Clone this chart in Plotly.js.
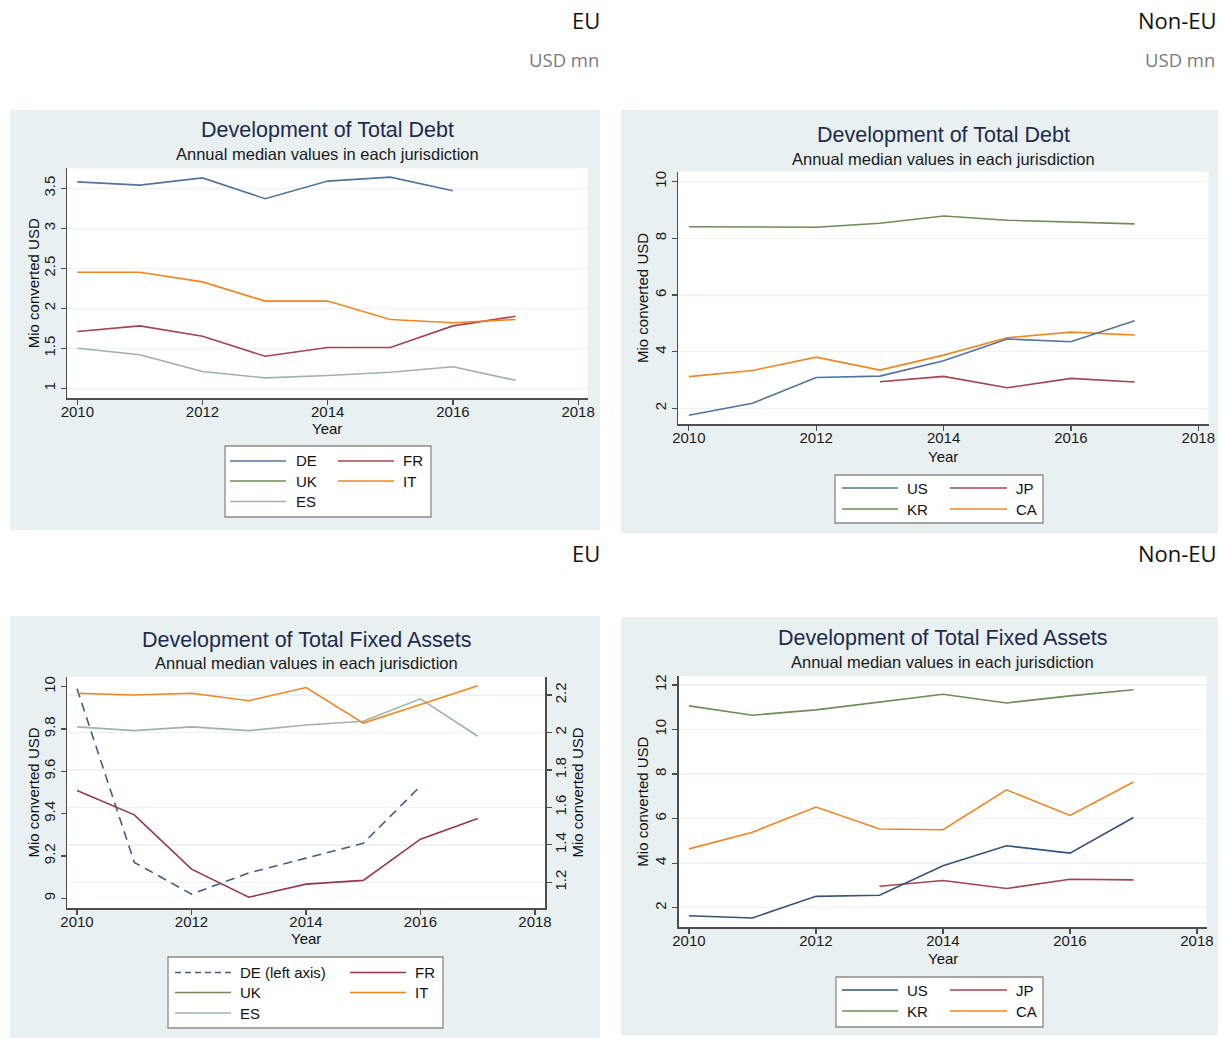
<!DOCTYPE html>
<html>
<head>
<meta charset="utf-8">
<script src="https://cdn.plot.ly/plotly-3.0.1.min.js"></script>
<style>
  html, body { margin: 0; padding: 0; background: #ffffff; }
  #chart { width: 1228px; height: 1038px; }
</style>
</head>
<body>
<div id="chart"></div>
<script>
// ---- data: annual medians, million USD ----
const years = [2010, 2011, 2012, 2013, 2014, 2015, 2016, 2017];
const xTicks = [2010, 2012, 2014, 2016, 2018];

// Total debt, EU jurisdictions
const debtDE = [3.58, 3.54, 3.63, 3.37, 3.59, 3.64, 3.47, null];
const debtFR = [1.71, 1.78, 1.65, 1.40, 1.51, 1.51, 1.78, 1.90];
const debtUK = [null, null, null, null, null, null, null, null];
const debtIT = [2.45, 2.45, 2.33, 2.09, 2.09, 1.86, 1.82, 1.86];
const debtES = [1.50, 1.42, 1.21, 1.13, 1.16, 1.20, 1.27, 1.10];

// Total debt, non-EU jurisdictions
const debtUS = [1.76, 2.18, 3.09, 3.14, 3.68, 4.45, 4.35, 5.09];
const debtJP = [null, null, null, 2.94, 3.13, 2.73, 3.06, 2.93];
const debtKR = [8.41, 8.39, 8.39, 8.53, 8.79, 8.64, 8.58, 8.51];
const debtCA = [3.12, 3.34, 3.81, 3.35, 3.88, 4.49, 4.69, 4.59];

// Total fixed assets, EU jurisdictions (DE on the left axis, others on the right)
const faDE = [9.99, 9.17, 9.02, 9.12, 9.19, 9.26, 9.53, null];
const faFR = [1.69, 1.56, 1.27, 1.12, 1.19, 1.21, 1.43, 1.54];
const faUK = [null, null, null, null, null, null, null, null];
const faIT = [2.21, 2.20, 2.21, 2.17, 2.24, 2.05, 2.15, 2.25];
const faES = [2.03, 2.01, 2.03, 2.01, 2.04, 2.06, 2.18, 1.98];

// Total fixed assets, non-EU jurisdictions
const faUS = [1.64, 1.54, 2.51, 2.56, 3.88, 4.78, 4.45, 6.05];
const faJP = [null, null, null, 2.96, 3.22, 2.86, 3.28, 3.25];
const faKR = [11.06, 10.64, 10.88, 11.24, 11.58, 11.19, 11.51, 11.78];
const faCA = [4.64, 5.39, 6.52, 5.53, 5.50, 7.29, 6.14, 7.64];

// ---- styling ----
const W = 1228, H = 1038;
const FONT = 'Liberation Sans, Arial, sans-serif';
const HEAD_FONT = 'Open Sans, Noto Sans, sans-serif';
const COL = {
  navy: '#52739a', maroon: '#a4444f', green: '#6f8b57',
  orange: '#f08522', gray: '#9fb1aa'
};
const PANEL_BG = '#e8f0f2';
const GRID = '#edf2f4';
const AXIS = '#4d4d4d';

const fx = px => px / W;
const fy = py => 1 - py / H;

// panel frames and plot areas (pixels)
const panels = [
  { bg: [10, 110, 600, 530], plot: [67.3, 168.3, 587.5, 398.3], xr: [2009.84, 2018.15], yr: [0.875, 3.75], dtick: 0.5, tick0: 1,
    title: 'Development of Total Debt', tY: 130.5, sY: 154, yTitleX: 33, xTitleY: 428 },
  { bg: [621, 110, 1218, 533], plot: [678, 171.7, 1208.5, 424.3], xr: [2009.83, 2018.16], yr: [1.44, 10.35], dtick: 2, tick0: 2,
    title: 'Development of Total Debt', tY: 134.5, sY: 158.5, yTitleX: 643, xTitleY: 456 },
  { bg: [10, 616, 600, 1038], plot: [67.3, 676.7, 545.3, 908.3], xr: [2009.83, 2018.18], yr: [8.953, 10.047], dtick: 0.2, tick0: 9,
    title: 'Development of Total Fixed Assets', tY: 639.5, sY: 663, yTitleX: 33, xTitleY: 938 },
  { bg: [621, 617, 1218, 1035], plot: [678.8, 676, 1206.5, 927.3], xr: [2009.84, 2018.15], yr: [1.12, 12.4], dtick: 2, tick0: 2,
    title: 'Development of Total Fixed Assets', tY: 638, sY: 662, yTitleX: 643, xTitleY: 958 }
];

const tickFont = { family: FONT, size: 15, color: '#1a1a1a' };
const labelFont = { family: FONT, size: 15, color: '#111' };

function xAxis(p, anchor) {
  return {
    domain: [fx(p.plot[0]), fx(p.plot[2])], range: p.xr, anchor: anchor,
    tickvals: xTicks, ticks: 'outside', ticklen: 5, tickwidth: 1.2, tickcolor: AXIS,
    ticklabelstandoff: -6,
    showline: true, linecolor: AXIS, linewidth: 1.5, showgrid: false, zeroline: false,
    tickfont: tickFont, fixedrange: true
  };
}
function yAxis(p, anchor, grid) {
  return {
    domain: [fy(p.plot[3]), fy(p.plot[1])], range: p.yr, anchor: anchor,
    tick0: p.tick0, dtick: p.dtick, tickangle: -90,
    ticks: 'outside', ticklen: 5, tickwidth: 1.2, tickcolor: AXIS,
    showline: true, linecolor: AXIS, linewidth: 1.5,
    showgrid: grid, gridcolor: GRID, gridwidth: 1.5, zeroline: false,
    tickfont: tickFont, fixedrange: true
  };
}

// ---- traces ----
function line(y, color, xa, ya, dash) {
  return {
    type: 'scatter', mode: 'lines', x: years, y: y, xaxis: xa, yaxis: ya,
    line: { color: color, width: 1.6, dash: dash || 'solid' },
    connectgaps: false, showlegend: false, hoverinfo: 'x+y'
  };
}

const data = [
  // EU debt
  line(debtES, COL.gray, 'x', 'y'),
  line(debtUK, COL.green, 'x', 'y'),
  line(debtFR, COL.maroon, 'x', 'y'),
  line(debtIT, COL.orange, 'x', 'y'),
  line(debtDE, COL.navy, 'x', 'y'),
  // non-EU debt
  line(debtKR, COL.green, 'x2', 'y2'),
  line(debtJP, COL.maroon, 'x2', 'y2'),
  line(debtCA, COL.orange, 'x2', 'y2'),
  line(debtUS, COL.navy, 'x2', 'y2'),
  // EU fixed assets
  line(faES, COL.gray, 'x3', 'y5'),
  line(faUK, COL.green, 'x3', 'y5'),
  line(faFR, '#94394a', 'x3', 'y5'),
  line(faIT, COL.orange, 'x3', 'y5'),
  line(faDE, '#3f5d80', 'x3', 'y3', '9px,6px'),
  // non-EU fixed assets
  line(faKR, COL.green, 'x4', 'y4'),
  line(faJP, COL.maroon, 'x4', 'y4'),
  line(faCA, COL.orange, 'x4', 'y4'),
  line(faUS, '#34537a', 'x4', 'y4')
];

// ---- frames, titles, legends ----
const shapes = [];
const annotations = [];

panels.forEach((p, i) => {
  shapes.push({ type: 'rect', xref: 'paper', yref: 'paper', layer: 'below',
    x0: fx(p.bg[0]), x1: fx(p.bg[2]), y0: fy(p.bg[3]), y1: fy(p.bg[1]),
    fillcolor: PANEL_BG, line: { width: 0 } });
  shapes.push({ type: 'rect', xref: 'paper', yref: 'paper', layer: 'below',
    x0: fx(p.plot[0]), x1: fx(p.plot[2]), y0: fy(p.plot[3]), y1: fy(p.plot[1]),
    fillcolor: '#ffffff', line: { width: 0 } });
  const cx = fx((p.plot[0] + p.plot[2]) / 2);
  annotations.push({ xref: 'paper', yref: 'paper', x: cx, y: fy(p.tY), xanchor: 'center', yanchor: 'middle',
    text: p.title, showarrow: false, font: { family: FONT, size: 21.5, color: '#1e2b4c' } });
  annotations.push({ xref: 'paper', yref: 'paper', x: cx, y: fy(p.sY), xanchor: 'center', yanchor: 'middle',
    text: 'Annual median values in each jurisdiction', showarrow: false, font: { family: FONT, size: 16.5, color: '#1a1a1a' } });
  annotations.push({ xref: 'paper', yref: 'paper', x: fx(p.yTitleX), y: fy((p.plot[1] + p.plot[3]) / 2),
    xanchor: 'center', yanchor: 'middle', textangle: -90,
    text: 'Mio converted USD', showarrow: false, font: labelFont });
  annotations.push({ xref: 'paper', yref: 'paper', x: cx, y: fy(p.xTitleY), xanchor: 'center', yanchor: 'middle',
    text: 'Year', showarrow: false, font: labelFont });
});
// right-hand axis title of the fixed-assets EU panel
annotations.push({ xref: 'paper', yref: 'paper', x: fx(577), y: fy((676.7 + 908.3) / 2),
  xanchor: 'center', yanchor: 'middle', textangle: -90,
  text: 'Mio converted USD', showarrow: false, font: labelFont });

// legend: box [l, t, r, b]; col starts: line x0, line x1, text x; rows: y centres
function legend(box, cols, rows, items) {
  shapes.push({ type: 'rect', xref: 'paper', yref: 'paper',
    x0: fx(box[0]), x1: fx(box[2]), y0: fy(box[3]), y1: fy(box[1]),
    fillcolor: '#ffffff', line: { color: '#8a8a8a', width: 1.3 } });
  items.forEach(it => {
    const c = cols[it.col], yy = rows[it.row];
    shapes.push({ type: 'line', xref: 'paper', yref: 'paper',
      x0: fx(c[0]), x1: fx(c[1]), y0: fy(yy), y1: fy(yy),
      line: { color: it.color, width: 1.6, dash: it.dash || 'solid' } });
    annotations.push({ xref: 'paper', yref: 'paper', x: fx(c[2]), y: fy(yy), xanchor: 'left', yanchor: 'middle',
      text: it.name, showarrow: false, font: labelFont });
  });
}

legend([225, 446, 431, 517], [[230, 286, 294], [338, 394, 401]], [461, 481, 501.5], [
  { name: 'DE', color: COL.navy, col: 0, row: 0 },
  { name: 'FR', color: COL.maroon, col: 1, row: 0 },
  { name: 'UK', color: COL.green, col: 0, row: 1 },
  { name: 'IT', color: COL.orange, col: 1, row: 1 },
  { name: 'ES', color: COL.gray, col: 0, row: 2 }
]);
legend([835, 475, 1043, 523], [[842, 898, 905], [950, 1007, 1014]], [488, 509], [
  { name: 'US', color: COL.navy, col: 0, row: 0 },
  { name: 'JP', color: COL.maroon, col: 1, row: 0 },
  { name: 'KR', color: COL.green, col: 0, row: 1 },
  { name: 'CA', color: COL.orange, col: 1, row: 1 }
]);
legend([168, 957, 443, 1028], [[175, 231, 238], [350, 406, 413]], [972.5, 992.5, 1013], [
  { name: 'DE (left axis)', color: '#3f5d80', dash: '6px,4px', col: 0, row: 0 },
  { name: 'FR', color: '#94394a', col: 1, row: 0 },
  { name: 'UK', color: COL.green, col: 0, row: 1 },
  { name: 'IT', color: COL.orange, col: 1, row: 1 },
  { name: 'ES', color: COL.gray, col: 0, row: 2 }
]);
legend([836, 977, 1043, 1027], [[842, 898, 905], [950, 1007, 1014]], [990, 1011], [
  { name: 'US', color: '#34537a', col: 0, row: 0 },
  { name: 'JP', color: COL.maroon, col: 1, row: 0 },
  { name: 'KR', color: COL.green, col: 0, row: 1 },
  { name: 'CA', color: COL.orange, col: 1, row: 1 }
]);

// section headers
function header(text, xRight, yMid, size, color) {
  annotations.push({ xref: 'paper', yref: 'paper', x: fx(xRight), y: fy(yMid), xanchor: 'right', yanchor: 'middle',
    text: text, showarrow: false, font: { family: HEAD_FONT, size: size, color: color } });
}
header('EU', 602, 20, 22, '#111');
header('USD mn', 601, 60, 18.5, '#7a7a7a');
header('Non-EU', 1219, 20, 22, '#111');
header('USD mn', 1217, 60, 18.5, '#7a7a7a');
header('EU', 602, 553, 22, '#111');
header('Non-EU', 1219, 553, 22, '#111');

// ---- axes ----
const p3 = panels[2];
const layout = {
  width: W, height: H,
  margin: { l: 0, r: 0, t: 0, b: 0 },
  paper_bgcolor: '#ffffff', plot_bgcolor: '#ffffff',
  showlegend: false,
  font: { family: FONT },
  xaxis: xAxis(panels[0], 'y'),   yaxis: yAxis(panels[0], 'x', true),
  xaxis2: xAxis(panels[1], 'y2'), yaxis2: yAxis(panels[1], 'x2', true),
  xaxis3: xAxis(panels[2], 'y3'), yaxis3: yAxis(panels[2], 'x3', false),
  xaxis4: xAxis(panels[3], 'y4'), yaxis4: yAxis(panels[3], 'x4', true),
  yaxis5: Object.assign(yAxis(p3, 'x3', true), {
    overlaying: 'y3', side: 'right', range: [1.061, 2.298], tick0: 1.2, dtick: 0.2,
    ticklabelstandoff: -4
  }),
  shapes: shapes,
  annotations: annotations
};
delete layout.yaxis5.domain;

Plotly.newPlot('chart', data, layout, { displayModeBar: false, staticPlot: true });
</script>
</body>
</html>
